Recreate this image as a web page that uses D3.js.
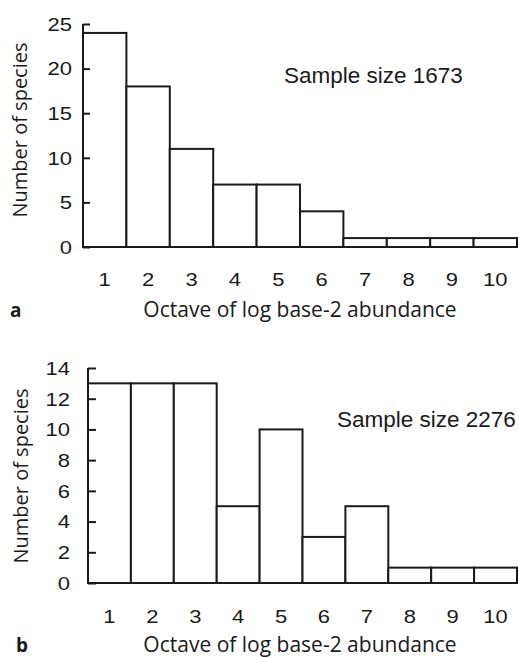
<!DOCTYPE html>
<html><head><meta charset="utf-8">
<script src="https://cdn.jsdelivr.net/npm/d3@7/dist/d3.min.js"></script>
<style>body{margin:0;background:#fff}svg{display:block}</style>
</head><body>
<script>
const octaves = [1,2,3,4,5,6,7,8,9,10];
const countsA = [24,18,11,7,7,4,1,1,1,1];
const countsB = [13,13,13,5,10,3,5,1,1,1];
const ticksA = [0,5,10,15,20,25];
const ticksB = [0,2,4,6,8,10,12,14];
const labelA = "Sample size 1673";
const labelB = "Sample size 2276";
const xTitle = "Octave of log base-2 abundance";
const yTitle = "Number of species";

const W = 519, H = 658;
const svg = d3.select("body").append("svg").attr("width", W).attr("height", H);
const ink = "#1a1a1a";
const sans = "'Liberation Sans', Arial, sans-serif";
const humanist = "'Open Sans', 'Noto Sans', sans-serif";
const digitSize = 22, digitSquash = 0.87;

function panel(o) {
  const g = svg.append("g");
  const x = d3.scaleBand().domain(octaves).range([o.x0, o.x1]).padding(0);
  const y = d3.scaleLinear().domain([0, o.ymax]).range([o.y0, o.y1]);
  // bars
  g.selectAll("rect.bar").data(octaves.map((k,i)=>({k, v:o.counts[i]}))).join("rect")
    .attr("x", d => x(d.k)).attr("width", x.bandwidth())
    .attr("y", d => y(d.v)).attr("height", d => y(0) - y(d.v))
    .attr("fill", "#fff").attr("stroke", ink).attr("stroke-width", 2);
  // y axis (ticks inward)
  const ya = g.append("g").attr("transform", `translate(${o.x0},0)`)
    .call(d3.axisRight(y).tickValues(o.ticks).tickSize(o.tick).tickFormat(""));
  ya.select(".domain").attr("d", `M0,${y(o.ymax)}V${y(0)}`).attr("stroke", ink).attr("stroke-width", 2);
  ya.selectAll(".tick line").attr("stroke", ink).attr("stroke-width", 2);
  // y tick labels
  g.selectAll("text.yl").data(o.ticks).join("text")
    .attr("transform", d => `translate(${o.ylabX},${y(d) + 0.36*digitSize*digitSquash}) scale(1,${digitSquash})`)
    .attr("text-anchor", "end").attr("font-family", sans).attr("font-size", digitSize)
    .attr("fill", ink).text(d => d);
  // x axis baseline
  g.append("line").attr("x1", o.x0).attr("x2", o.x1).attr("y1", y(0)).attr("y2", y(0))
    .attr("stroke", ink).attr("stroke-width", 2);
  // x labels
  g.selectAll("text.xl").data(octaves).join("text")
    .attr("transform", d => `translate(${x(d) + x.bandwidth()/2},${o.xlabY}) scale(1,${digitSquash})`)
    .attr("text-anchor", "middle").attr("font-family", sans).attr("font-size", digitSize)
    .attr("fill", ink).text(d => d);
  // x title
  g.append("text").attr("x", 300).attr("y", o.xtitleY).attr("text-anchor", "middle")
    .attr("font-family", humanist).attr("font-size", 21).attr("fill", ink).text(xTitle);
  // panel letter
  g.append("text").attr("x", o.letterX).attr("y", o.xtitleY).attr("font-family", humanist)
    .attr("font-weight", "bold").attr("font-size", 19).attr("fill", ink).text(o.letter);
  // y title
  g.append("text").attr("transform", `translate(${o.ytitleX},${o.ytitleY}) rotate(-90)`)
    .attr("text-anchor", "middle").attr("font-family", humanist).attr("font-size", 20)
    .attr("fill", ink).text(yTitle);
  // sample size
  g.append("text").attr("x", o.sx).attr("y", o.sy).attr("font-family", sans)
    .attr("font-size", 22.5).attr("fill", ink).text(o.sample);
}

panel({counts: countsA, ticks: ticksA, ymax: 25, x0: 83, x1: 517, y0: 247, y1: 24, tick: 7,
  ylabX: 72, xlabY: 286, xtitleY: 317, ytitleX: 27, ytitleY: 130, letter: "a", letterX: 10,
  sample: labelA, sx: 284, sy: 83});
panel({counts: countsB, ticks: ticksB, ymax: 14, x0: 88, x1: 517, y0: 583, y1: 368, tick: 8,
  ylabX: 70, xlabY: 623, xtitleY: 652, ytitleX: 28, ytitleY: 476, letter: "b", letterX: 16,
  sample: labelB, sx: 337, sy: 427});
</script>
</body></html>
